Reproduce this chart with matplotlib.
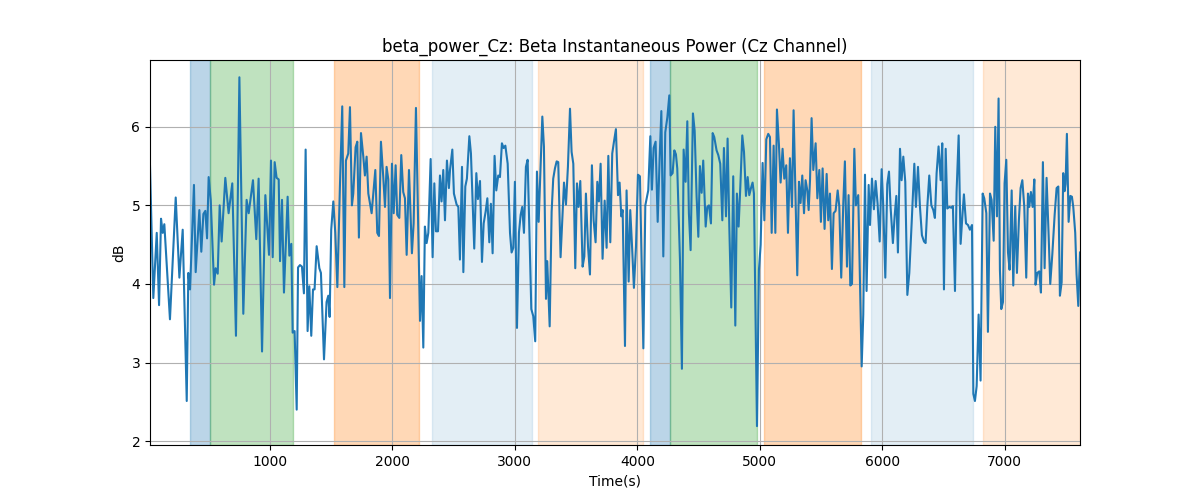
import matplotlib
matplotlib.use("Agg")
import matplotlib.pyplot as plt

# time (s) and beta power (dB)
t = [20, 47, 75, 94, 110, 124, 137, 183, 230, 260, 287, 320, 333, 347, 379, 393, 423, 439,
     456, 472, 486, 499, 516, 543, 556, 573, 589, 605, 635, 662, 692, 722, 750, 782, 809, 826,
     861, 888, 907, 935, 962, 992, 1008, 1022, 1038, 1054, 1071, 1082, 1098, 1114, 1144, 1158,
     1174, 1185, 1201, 1218, 1229, 1245,
     1261, 1277, 1291, 1307, 1321, 1337, 1351, 1364, 1381, 1403, 1416, 1441, 1462, 1476, 1487,
     1500, 1517, 1533, 1550, 1571, 1590, 1607, 1620, 1639, 1653, 1669, 1680, 1699, 1713, 1726,
     1743, 1762, 1775, 1789, 1803, 1830, 1860, 1876, 1890, 1906, 1925, 1939, 1952, 1966, 1980,
     1996, 2010, 2026, 2039, 2056, 2072, 2088, 2102, 2116, 2135, 2159, 2173, 2192, 2225, 2238,
     2252, 2265, 2279, 2293, 2312, 2328, 2342, 2355, 2372, 2388, 2401, 2415, 2429, 2445, 2461,
     2470, 2489, 2502, 2524, 2538, 2551, 2568, 2579, 2595, 2608, 2628, 2641, 2668, 2685, 2698,
     2715, 2731, 2745, 2761, 2775, 2791, 2804, 2818, 2834, 2848, 2864, 2878, 2894, 2908, 2922,
     2941, 2960, 2973, 2987, 3000, 3017, 3033, 3047, 3060, 3074, 3090, 3104, 3117, 3134, 3150,
     3166, 3180, 3194, 3207, 3224, 3237, 3254, 3264, 3284, 3300, 3313, 3327, 3341, 3354, 3373,
     3401, 3417, 3433, 3450, 3463, 3477, 3493, 3507, 3520, 3534, 3553, 3567, 3580, 3597, 3613,
     3629, 3643, 3659, 3673, 3686,
     3700, 3716, 3733, 3749, 3763, 3779, 3795, 3809, 3825, 3842, 3855, 3869, 3880, 3899, 3912,
     3929, 3942, 3956, 3972, 3989, 4005, 4021, 4049, 4065, 4089, 4106, 4119, 4133, 4149, 4166,
     4182, 4196, 4212, 4228, 4245, 4261, 4272, 4288, 4302, 4315, 4326, 4348, 4364, 4378, 4394,
     4408, 4421, 4435, 4454, 4468, 4484, 4498, 4511, 4525, 4538, 4558, 4571, 4585, 4601, 4615,
     4628, 4647, 4661, 4677, 4694, 4707, 4724, 4737, 4751, 4767, 4783, 4800, 4813, 4827, 4841,
     4857, 4871, 4887, 4901, 4914,
     4928, 4941, 4952, 4977, 4993, 5007, 5023, 5037, 5053, 5069, 5083, 5097, 5113, 5127, 5140,
     5156, 5170, 5186, 5200, 5216, 5230, 5246, 5263, 5276, 5293, 5306, 5320, 5333, 5347, 5361,
     5374, 5388, 5399, 5410, 5423, 5437, 5456, 5470, 5486, 5499, 5513, 5529, 5546, 5559, 5573,
     5589, 5603, 5619, 5636, 5649, 5665, 5682, 5695, 5712, 5725, 5739, 5753, 5772, 5785, 5804,
     5832, 5845, 5859, 5872, 5889, 5900, 5916, 5932, 5946, 5962, 5979, 5995, 6008, 6025, 6041,
     6055, 6068, 6087, 6101, 6115,
     6128, 6145, 6158, 6172, 6188, 6205, 6221, 6240, 6262, 6275, 6292, 6308, 6324, 6341, 6354,
     6368, 6384, 6401, 6417, 6430, 6444, 6460, 6477, 6490, 6504, 6518, 6531, 6548, 6564, 6577,
     6594, 6607, 6624, 6640, 6656, 6667, 6684, 6700, 6716, 6733, 6744, 6757, 6771, 6787, 6803,
     6820, 6833, 6850, 6863, 6880, 6893, 6910, 6923, 6937, 6950, 6961, 6972, 6986, 6999, 7013,
     7027, 7040, 7057, 7070, 7086, 7100, 7116, 7130, 7144, 7160, 7176, 7190, 7201, 7214, 7228,
     7242, 7252, 7266, 7282, 7296, 7312, 7326, 7342, 7359, 7372, 7389, 7408, 7424, 7438, 7451,
     7465, 7478, 7489, 7497, 7508, 7522, 7536, 7549, 7560, 7576, 7587, 7601, 7615]

power = [5.50, 3.82, 4.65, 3.73, 4.83, 4.65, 4.76, 3.55, 5.10, 4.08, 4.69, 2.51, 4.14, 3.93,
         5.26, 4.15, 4.94, 4.41, 4.89, 4.93, 4.58, 5.36, 5.07, 3.99, 4.20, 4.13, 5.00, 4.54, 5.35,
         4.90, 5.28, 3.34, 6.63, 3.62, 5.07, 4.90, 5.32, 4.57, 5.34, 3.14, 5.13, 4.37, 5.57, 4.34,
         5.55, 5.35, 5.33, 4.29, 5.07, 3.89, 5.11, 4.36, 4.51, 3.38, 3.40, 2.40, 4.21, 4.24,
         4.22, 3.88, 5.71, 3.40, 3.97, 3.34, 3.93, 3.93, 4.48, 4.20, 4.14, 3.04, 3.77, 3.85, 3.58,
         4.69, 5.05, 4.65, 3.96, 5.24, 6.26, 3.96, 5.57, 5.66, 6.25, 5.00, 5.15, 5.74, 5.81, 4.59,
         5.92, 5.62, 5.38, 5.62, 5.15, 4.90, 5.45, 4.65, 4.61, 5.81, 5.36, 4.98, 5.49, 5.33, 3.82,
         5.53, 4.90, 5.51, 4.88, 4.84, 5.64, 5.17, 5.09, 4.37, 5.45, 4.39, 4.77, 6.24, 3.53, 4.10,
         3.19, 4.73, 4.52, 4.65, 5.59, 4.34, 5.28, 4.67, 4.67, 5.38, 5.05, 5.45, 4.81, 5.57, 5.22,
         5.45, 5.71, 5.15, 5.01, 4.98, 4.31, 5.49, 4.15, 5.24, 5.34, 5.88, 5.66, 4.45, 5.41, 5.08,
         5.31, 4.28, 4.77, 4.92, 5.09, 4.53, 5.02, 4.39, 5.63, 5.19, 5.38, 5.36, 5.79, 5.73, 5.76,
         5.53, 4.65, 4.40, 4.46, 5.30, 3.44, 4.65, 4.88, 4.98, 4.65, 5.49, 5.58, 4.77, 3.68, 3.59,
         3.27, 5.43, 4.79, 5.36, 6.13, 5.75, 3.81, 4.29, 3.46, 4.92, 5.34, 5.47, 5.56, 5.55, 4.34,
         5.29, 5.01, 5.49, 6.23, 5.68, 5.53, 4.20, 5.28, 4.98, 5.31, 4.22, 4.35, 5.15, 4.48, 4.12,
         5.51, 4.81, 4.53, 5.30, 5.05,
         5.53, 4.32, 5.06, 4.46, 5.63, 4.53, 5.66, 5.81, 5.97, 5.13, 5.29, 4.86, 4.94, 3.21, 5.19,
         4.03, 4.94, 4.50, 3.95, 4.48, 5.39, 5.37, 3.18, 5.00, 5.19, 5.88, 5.20, 5.73, 5.81, 4.79,
         5.59, 6.20, 4.35, 5.93, 6.12, 6.40, 5.38, 5.41, 5.70, 5.65, 5.47, 4.31, 2.92, 5.71, 5.30,
         6.07, 4.90, 4.43, 6.17, 5.95, 5.11, 4.60, 5.50, 5.16, 5.57, 4.73, 4.98, 5.00, 4.77, 5.92,
         5.87, 5.70, 5.64, 5.53, 4.81, 5.73, 4.86, 5.85, 4.73, 3.70, 5.37, 3.47, 5.15, 4.73, 5.24,
         5.89, 5.68, 5.12, 5.36, 5.13,
         5.22, 5.29, 5.15, 2.19, 4.18, 4.50, 5.54, 4.81, 5.84, 5.91, 5.87, 4.65, 5.76, 4.65, 6.22,
         5.78, 5.29, 5.72, 5.34, 5.51, 4.65, 5.60, 4.98, 6.21, 5.03, 4.11, 5.30, 5.03, 5.38, 4.90,
         5.32, 5.19, 4.94, 5.32, 6.11, 5.45, 5.79, 5.09, 5.45, 4.79, 5.47, 4.70, 5.40, 4.81, 5.15,
         4.19, 4.90, 4.93, 5.19, 4.99, 4.08, 5.03, 5.56, 4.22, 5.13, 3.98, 4.00, 5.72, 5.00, 5.13,
         2.95, 3.61, 5.39, 3.91, 5.26, 4.75, 5.34, 4.95, 5.31, 5.02, 4.54, 5.46, 5.00, 4.08, 5.27,
         5.43, 4.98, 4.52, 4.86, 5.12,
         4.40, 5.72, 5.32, 5.62, 5.30, 3.86, 4.14, 4.77, 5.53, 4.98, 5.49, 4.98, 4.62, 4.54, 4.52,
         4.98, 5.38, 5.00, 4.94, 4.84, 5.41, 5.75, 5.32, 5.79, 3.93, 5.72, 4.96, 4.98, 4.97, 4.99,
         3.91, 5.17, 5.89, 4.51, 4.90, 5.14, 4.77, 4.75, 4.69, 4.75, 2.60, 2.51, 2.70, 3.61, 2.77,
         5.15, 5.09, 4.90, 3.39, 5.15, 5.07, 4.55, 6.00, 4.86, 6.36, 4.18, 3.68, 3.77, 5.28, 5.58,
         4.40, 4.18, 5.19, 3.98, 4.99, 4.14, 4.81, 5.22, 5.32, 4.98, 4.08, 5.15, 4.98, 5.17, 4.98,
         5.33, 3.99, 4.14, 4.16, 3.89, 5.55, 4.20, 5.35, 4.61, 4.00, 4.38, 4.88, 5.22, 5.24, 3.85,
         4.02, 5.41, 5.18, 5.27, 5.91, 4.79, 5.12, 5.11, 4.98, 4.65, 4.12, 3.72, 4.40]

# labelled segments: (start, end, colour, alpha)
seg_start = [347, 508, 1523, 2323, 3189, 4103, 4269, 5034, 5908, 6822]
seg_end = [508, 1190, 2214, 3140, 4046, 4269, 4975, 5823, 6738, 7615]
seg_color = ["tab:blue", "tab:green", "tab:orange", "tab:blue", "tab:orange",
             "tab:blue", "tab:green", "tab:orange", "tab:blue", "tab:orange"]
seg_alpha = [0.3, 0.3, 0.3, 0.12, 0.17, 0.3, 0.3, 0.3, 0.12, 0.17]

fig, ax = plt.subplots(figsize=(12, 5), dpi=100)
for s, e, c, a in zip(seg_start, seg_end, seg_color, seg_alpha):
    ax.axvspan(s, e, color=c, alpha=a)
ax.plot(t, power, color="tab:blue", linewidth=1.5)

ax.set_xlim(t[0], t[-1])
ax.set_ylim(1.95, 6.85)
ax.set_title("beta_power_Cz: Beta Instantaneous Power (Cz Channel)")
ax.set_xlabel("Time(s)")
ax.set_ylabel("dB")
ax.grid(True)

fig.savefig("out.png")
